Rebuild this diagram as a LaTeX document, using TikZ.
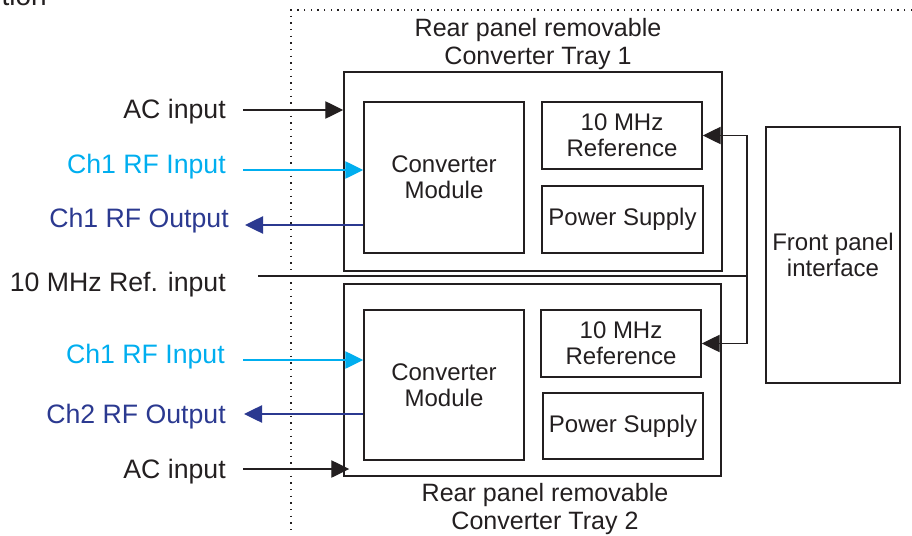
\documentclass[tikz,border=0pt]{standalone}
\usepackage{fontspec}
\setmainfont{Liberation Sans}
\usetikzlibrary{arrows.meta,fit}
\definecolor{rfin}{RGB}{0,174,239}
\definecolor{rfout}{RGB}{43,57,144}
\definecolor{ink}{RGB}{35,31,32}
\begin{document}
\begin{tikzpicture}[x=0.75pt,y=-0.75pt,
  box/.style={draw=ink, line width=1.1pt, inner sep=0pt},
  boxtext/.style={inner sep=0pt, align=center,
    font=\fontsize{18}{19.5}\selectfont, text=ink},
  lbl/.style={anchor=base east, inner sep=0pt, font=\fontsize{20}{24}\selectfont, text=ink},
  traylbl/.style={inner sep=0pt, align=center, font=\fontsize{18.8}{20.3}\selectfont, text=ink},
  arr/.style={line width=1pt, draw=ink, -{Triangle[length=13.5pt,width=13pt]}},
  wire/.style={line width=1.1pt, draw=ink},
  border/.style={line width=1.1pt, draw=ink, dash pattern=on 1.1pt off 3.9pt}]
\useasboundingbox (0,0) rectangle (912,535);

% cut-off title fragment
\node[lbl, font=\fontsize{21}{24}\selectfont] (title) at (47,6) {tion};

% dotted border of the rear panel region
\coordinate (bTop) at (912,10);
\coordinate (bCorner) at (291,10);
\coordinate (bBot) at (291,535);
\draw[border] (bTop) -- (bCorner) -- (bBot);

% tray 1
\node[box, fit={(344,72) (722,271)}] (tray1) {};
\node[box, fit={(364,102) (524,253)}] (mod1) {};
\node[box, fit={(542,102) (702,169)}] (ref1) {};
\node[box, fit={(542,186) (703,253)}] (ps1) {};
\node[boxtext] (mod1t) at (mod1.center) {Converter\\Module};
\node[boxtext] (ref1t) at (ref1.center) {10 MHz\\Reference};
\node[boxtext] (ps1t) at (ps1.center) {Power Supply};
\node[traylbl] (t1lbl) at (538,44) {Rear panel removable\\Converter Tray 1};

% tray 2
\node[box, fit={(344,284) (721,476)}] (tray2) {};
\node[box, fit={(364,310) (524,460)}] (mod2) {};
\node[box, fit={(541,310) (701,377)}] (ref2) {};
\node[box, fit={(543,393) (703,459)}] (ps2) {};
\node[boxtext] (mod2t) at (mod2.center) {Converter\\Module};
\node[boxtext] (ref2t) at (ref2.center) {10 MHz\\Reference};
\node[boxtext] (ps2t) at (ps2.center) {Power Supply};
\node[traylbl] (t2lbl) at (545,509) {Rear panel removable\\Converter Tray 2};

% front panel
\node[box, fit={(766,127) (900,383)}] (front) {};
\node[boxtext] (frontt) at (front.center) {Front panel\\interface};

% left labels
\node[lbl] (ac1) at (226,118) {AC input};
\node[lbl, text=rfin] (in1) at (226,173) {Ch1 RF Input};
\node[lbl, text=rfout] (out1) at (229,227) {Ch1 RF Output};
\node[lbl] (refin) at (226,291) {10 MHz Ref. input};
\node[lbl, text=rfin] (in2) at (225,363) {Ch1 RF Input};
\node[lbl, text=rfout] (out2) at (226,423) {Ch2 RF Output};
\node[lbl] (ac2) at (226,478) {AC input};

% connector free ends
\coordinate (ac1s) at (243,110);
\coordinate (in1s) at (243,170);
\coordinate (out1e) at (245,225);
\coordinate (refs) at (258,276);
\coordinate (refbus) at (747,276);
\coordinate (in2s) at (243,360);
\coordinate (out2e) at (244,414);
\coordinate (ac2s) at (243,469);

% tray 1 connectors
\draw[arr] (ac1s) -- (ac1s -| tray1.west);
\draw[arr, draw=rfin, fill=rfin] (in1s) -- (in1s -| mod1.west);
\draw[arr, draw=rfout, fill=rfout] (out1e -| mod1.west) -- (out1e);

% 10 MHz reference distribution
\draw[wire] (refs) -- (refbus);
\draw[arr] (refbus) |- (ref1.east);
\draw[arr] (refbus) |- (ref2.east);

% tray 2 connectors
\draw[arr, draw=rfin, fill=rfin] (in2s) -- (in2s -| mod2.west);
\draw[arr, draw=rfout, fill=rfout] (out2e -| mod2.west) -- (out2e);
\draw[arr] (ac2s) -- ([xshift=4.5pt]ac2s -| tray2.west);
\end{tikzpicture}
\end{document}
